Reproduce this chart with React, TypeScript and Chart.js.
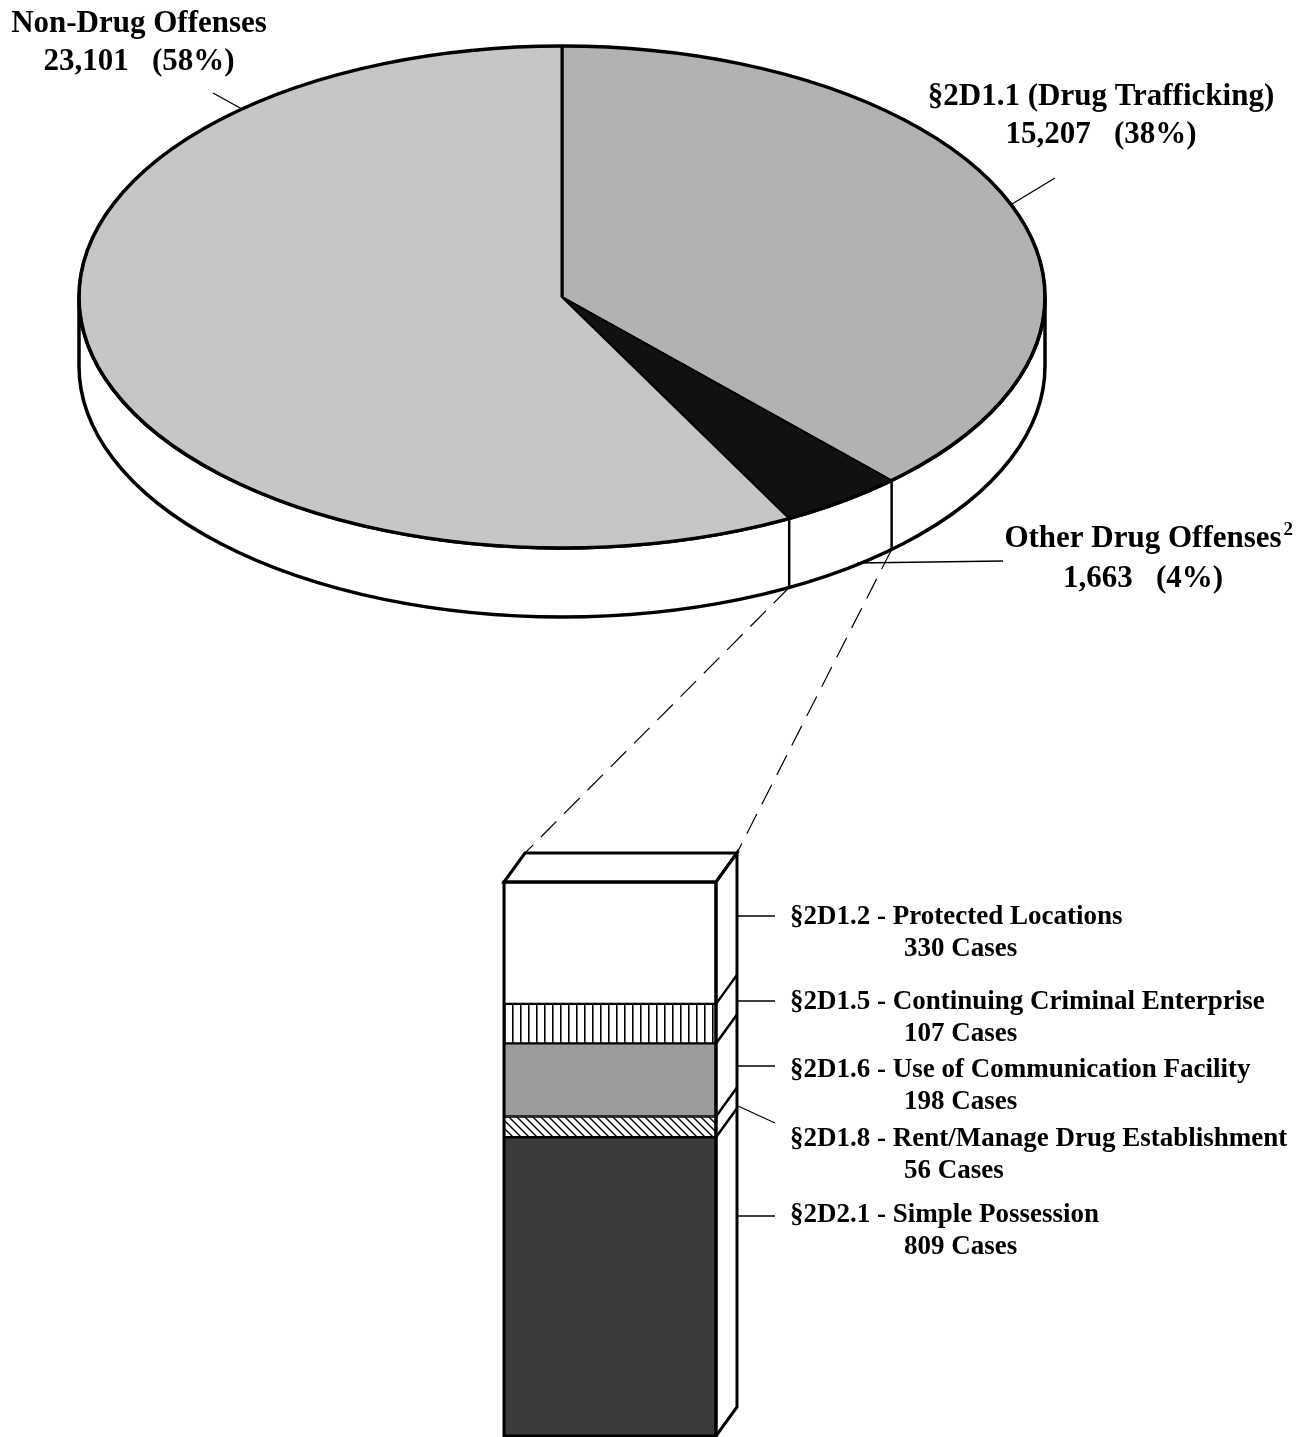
import React, { useEffect, useRef } from 'react';
import { Chart, registerables } from 'chart.js';

Chart.register(...registerables);

// ---------- data ----------
const PIE_LABELS = ['§2D1.1 (Drug Trafficking)', 'Other Drug Offenses', 'Non-Drug Offenses'];
const PIE_VALUES = [15207, 1663, 23101];

// stacked from bottom to top
const BAR_CATEGORY = ['Other Drug Offenses'];
const BAR_LABELS = [
  '§2D2.1 - Simple Possession',
  '§2D1.8 - Rent/Manage Drug Establishment',
  '§2D1.6 - Use of Communication Facility',
  '§2D1.5 - Continuing Criminal Enterprise',
  '§2D1.2 - Protected Locations',
];
const BAR_VALUES = [809, 56, 198, 107, 330];
const BAR_AXIS_MAX = 1500;

// ---------- layout ----------
const W = 1305;
const H = 1437;
const CX = 562;
const CY = 297;
const RX = 483;
const RY = 251;
const DEPTH = 69;
const BOX_DX = 21;
const BOX_DY = 29;
const FONT = '"Liberation Serif", "Times New Roman", serif';

const PIE_COLORS = ['#b2b2b2', '#111111', '#c6c6c6'];
const PIE_TEXT_POS = [
  { x: 1101, y1: 105, y2: 143 },
  { x: 1143, y1: 547, y2: 587 },
  { x: 139, y1: 32, y2: 70 },
];
const PIE_LEADERS = [
  [1055, 178, 1012, 204],
  [857, 563, 1003, 561],
  [213, 93, 242, 109],
];
// per bar segment (bottom to top): leader start y, leader end y, text baseline
const BAR_TEXT_POS = [
  { l0: 1216, l1: 1216, y: 1222 },
  { l0: 1106, l1: 1123, y: 1146 },
  { l0: 1066, l1: 1066, y: 1077 },
  { l0: 1001, l1: 1001, y: 1009 },
  { l0: 916, l1: 916, y: 924 },
];

function makeStripes(): CanvasPattern | string {
  const c = document.createElement('canvas');
  c.width = 8;
  c.height = 8;
  const g = c.getContext('2d');
  if (!g) return '#fff';
  g.fillStyle = '#fff';
  g.fillRect(0, 0, 8, 8);
  g.fillStyle = '#000';
  g.fillRect(0, 0, 1.6, 8);
  return g.createPattern(c, 'repeat') || '#fff';
}

function makeHatch(): CanvasPattern | string {
  const s = 8;
  const c = document.createElement('canvas');
  c.width = s;
  c.height = s;
  const g = c.getContext('2d');
  if (!g) return '#fff';
  g.fillStyle = '#fff';
  g.fillRect(0, 0, s, s);
  g.strokeStyle = '#000';
  g.lineWidth = 1.4;
  g.beginPath();
  g.moveTo(-1, -1);
  g.lineTo(s + 1, s + 1);
  g.moveTo(s - 2, -2);
  g.lineTo(s + 2, 2);
  g.moveTo(-2, s - 2);
  g.lineTo(2, s + 2);
  g.stroke();
  return g.createPattern(c, 'repeat') || '#fff';
}

function line(ctx: CanvasRenderingContext2D, x0: number, y0: number, x1: number, y1: number) {
  ctx.beginPath();
  ctx.moveTo(x0, y0);
  ctx.lineTo(x1, y1);
  ctx.stroke();
}

export default function App() {
  const pieRef = useRef<HTMLCanvasElement>(null);
  const barRef = useRef<HTMLCanvasElement>(null);

  useEffect(() => {
    if (!pieRef.current || !barRef.current) return;
    const total = PIE_VALUES.reduce((a, b) => a + b, 0);

    const piePlugin = {
      id: 'pie3d',
      beforeDatasetsDraw(chart: any) {
        const ctx: CanvasRenderingContext2D = chart.ctx;
        const arcs = chart.getDatasetMeta(0).data;
        // side band
        ctx.save();
        ctx.beginPath();
        ctx.moveTo(CX + RX, CY);
        ctx.lineTo(CX + RX, CY + DEPTH);
        ctx.ellipse(CX, CY + DEPTH, RX, RY, 0, 0, Math.PI, false);
        ctx.lineTo(CX - RX, CY);
        ctx.ellipse(CX, CY, RX, RY, 0, Math.PI, 0, true);
        ctx.closePath();
        ctx.fillStyle = '#fff';
        ctx.fill();
        ctx.lineWidth = 3.5;
        ctx.strokeStyle = '#000';
        ctx.stroke();
        ctx.lineWidth = 2.5;
        arcs.forEach((a: any) => {
          const ang = a.endAngle;
          if (Math.sin(ang) > 0.001) {
            const x = CX + RX * Math.cos(ang);
            const y = CY + RY * Math.sin(ang);
            line(ctx, x, y, x, y + DEPTH);
          }
        });
        ctx.restore();
        const a0 = arcs[0];
        ctx.save();
        ctx.translate(CX, CY);
        ctx.scale(1, RY / RX);
        ctx.translate(-a0.x, -a0.y);
      },
      afterDatasetsDraw(chart: any) {
        const ctx: CanvasRenderingContext2D = chart.ctx;
        ctx.restore();
        ctx.save();
        ctx.strokeStyle = '#000';
        ctx.lineWidth = 3.5;
        ctx.beginPath();
        ctx.ellipse(CX, CY, RX, RY, 0, 0, Math.PI * 2);
        ctx.stroke();
        // leaders
        ctx.lineWidth = 1.3;
        PIE_LEADERS.forEach((l) => line(ctx, l[0], l[1], l[2], l[3]));
        // labels
        ctx.fillStyle = '#000';
        ctx.textAlign = 'center';
        ctx.textBaseline = 'alphabetic';
        PIE_LABELS.forEach((lab, i) => {
          const p = PIE_TEXT_POS[i];
          ctx.font = `bold 31px ${FONT}`;
          ctx.fillText(lab, p.x, p.y1);
          const pct = Math.round((PIE_VALUES[i] / total) * 100);
          ctx.fillText(`${PIE_VALUES[i].toLocaleString('en-US')}   (${pct}%)`, p.x, p.y2);
          if (i === 1) {
            const w = ctx.measureText(lab).width;
            ctx.font = `bold 19px ${FONT}`;
            ctx.textAlign = 'left';
            ctx.fillText('2', p.x + w / 2 + 2, p.y1 - 12);
            ctx.textAlign = 'center';
          }
        });
        ctx.restore();
      },
    };

    const pie = new Chart(pieRef.current, {
      type: 'pie',
      data: {
        labels: PIE_LABELS,
        datasets: [
          {
            data: PIE_VALUES,
            backgroundColor: PIE_COLORS,
            borderColor: '#000',
            borderWidth: 3,
            hoverOffset: 0,
          },
        ],
      },
      options: {
        responsive: false,
        animation: false,
        events: [],
        radius: RX,
        layout: { padding: 0 },
        plugins: { legend: { display: false }, tooltip: { enabled: false } },
      } as any,
      plugins: [piePlugin],
    });

    const fills = ['#3b3b3b', makeHatch(), '#9c9c9c', makeStripes(), '#ffffff'];

    const barPlugin = {
      id: 'box3d',
      afterDatasetsDraw(chart: any) {
        const ctx: CanvasRenderingContext2D = chart.ctx;
        const els = BAR_VALUES.map((_, i) => chart.getDatasetMeta(i).data[0]);
        const left = els[0].x - els[0].width / 2;
        const right = els[0].x + els[0].width / 2;
        const bottom = els[0].base;
        const top = Math.min(...els.map((e: any) => e.y));
        ctx.save();
        ctx.strokeStyle = '#000';
        ctx.lineJoin = 'miter';
        ctx.fillStyle = '#fff';
        ctx.lineWidth = 3;
        // top face
        ctx.beginPath();
        ctx.moveTo(left, top);
        ctx.lineTo(left + BOX_DX, top - BOX_DY);
        ctx.lineTo(right + BOX_DX, top - BOX_DY);
        ctx.lineTo(right, top);
        ctx.closePath();
        ctx.fill();
        ctx.stroke();
        // side face
        ctx.beginPath();
        ctx.moveTo(right, top);
        ctx.lineTo(right + BOX_DX, top - BOX_DY);
        ctx.lineTo(right + BOX_DX, bottom - BOX_DY);
        ctx.lineTo(right, bottom);
        ctx.closePath();
        ctx.fill();
        ctx.stroke();
        // segment edges on side face
        ctx.lineWidth = 2.5;
        els.forEach((e: any) => {
          if (e.y > top + 1) line(ctx, right, e.y, right + BOX_DX, e.y - BOX_DY);
        });
        // front outline
        ctx.lineWidth = 3;
        ctx.strokeRect(left, top, right - left, bottom - top);

        // leaders and labels
        ctx.lineWidth = 1.3;
        ctx.fillStyle = '#000';
        ctx.textAlign = 'left';
        ctx.font = `bold 27px ${FONT}`;
        BAR_LABELS.forEach((lab, i) => {
          const p = BAR_TEXT_POS[i];
          line(ctx, right + BOX_DX + 1, p.l0, right + BOX_DX + 38, p.l1);
          ctx.fillText(lab, 790, p.y);
          ctx.fillText(`${BAR_VALUES[i]} Cases`, 904, p.y + 32);
        });

        // dashed connectors from the pie slice to the box
        const arcs = pie.getDatasetMeta(0).data as any[];
        const slice = arcs[1];
        const pA = slice.endAngle;
        const pB = slice.startAngle;
        ctx.setLineDash([22, 11]);
        ctx.lineWidth = 1.2;
        line(
          ctx,
          CX + RX * Math.cos(pA),
          CY + RY * Math.sin(pA) + DEPTH,
          left + BOX_DX,
          top - BOX_DY
        );
        line(
          ctx,
          CX + RX * Math.cos(pB),
          CY + RY * Math.sin(pB) + DEPTH,
          right + BOX_DX,
          top - BOX_DY
        );
        ctx.restore();
      },
    };

    const bar = new Chart(barRef.current, {
      type: 'bar',
      data: {
        labels: BAR_CATEGORY,
        datasets: BAR_LABELS.map((lab, i) => ({
          label: lab,
          data: [BAR_VALUES[i]],
          backgroundColor: fills[i] as any,
          borderColor: '#000',
          borderWidth: 1.5,
          borderSkipped: false,
          barPercentage: 1,
          categoryPercentage: 1,
          stack: 'drug',
        })),
      },
      options: {
        responsive: false,
        animation: false,
        events: [],
        layout: { padding: { left: 504, right: W - 716, top: 882, bottom: H - 1436 } },
        scales: {
          x: { stacked: true, display: false },
          y: { stacked: true, display: false, min: 0, max: BAR_AXIS_MAX },
        },
        plugins: { legend: { display: false }, tooltip: { enabled: false } },
      },
      plugins: [barPlugin],
    });

    return () => {
      bar.destroy();
      pie.destroy();
    };
  }, []);

  return (
    <div
      style={{
        position: 'fixed',
        left: 0,
        top: 0,
        width: W,
        height: H,
        overflow: 'hidden',
        background: '#fff',
      }}
    >
      <canvas
        ref={pieRef}
        width={W}
        height={H}
        style={{ position: 'absolute', left: 0, top: 0, width: W, height: H }}
      />
      <canvas
        ref={barRef}
        width={W}
        height={H}
        style={{ position: 'absolute', left: 0, top: 0, width: W, height: H }}
      />
    </div>
  );
}
